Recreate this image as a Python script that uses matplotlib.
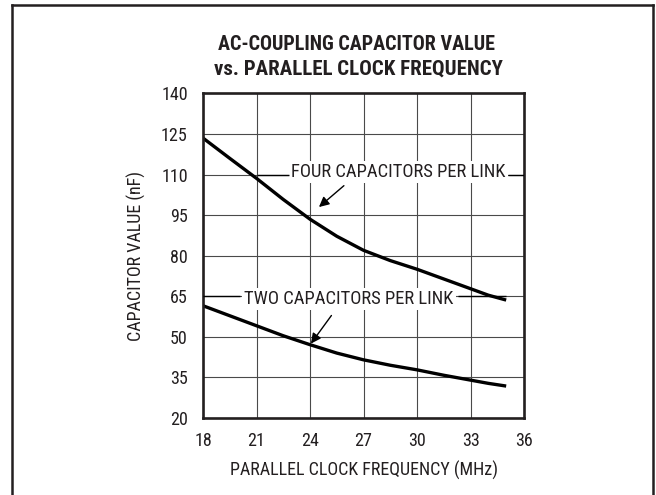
import matplotlib
matplotlib.use('Agg')
import matplotlib.pyplot as plt
from matplotlib import font_manager
from matplotlib.lines import Line2D

# data
freq = [18, 19.5, 21, 22.5, 24, 25.5, 27, 28.5, 30, 31.5, 33, 34, 35]
four_caps = [123.5, 116, 108.6, 100.8, 93.5, 87.2, 82.0, 78.2, 75.0, 71.4, 67.8, 65.4, 63.6]
two_caps = [61.5, 57.8, 54.1, 50.4, 47.1, 44.0, 41.5, 39.5, 37.8, 35.8, 34.0, 32.8, 31.8]
xticks = [18, 21, 24, 27, 30, 33, 36]
yticks = [20, 35, 50, 65, 80, 95, 110, 125, 140]

names = {f.name for f in font_manager.fontManager.ttflist}
fams = [n for n in ['Roboto Condensed', 'Archivo Narrow', 'Liberation Sans'] if n in names]
plt.rcParams['font.family'] = fams[:1] + ['DejaVu Sans']

ink = '#231f20'
fig = plt.figure(figsize=(6.56, 4.95), dpi=100)
ax = fig.add_axes([0.3095, 0.1556, 0.4893, 0.6556])

ax.plot(freq, four_caps, color='black', lw=2.4, solid_capstyle='butt')
ax.plot(freq, two_caps, color='black', lw=2.4, solid_capstyle='butt')

ax.set_xlim(18, 36)
ax.set_ylim(20, 140)
ax.set_xticks(xticks)
ax.set_yticks(yticks)
ax.grid(True, color='#4a4a4a', lw=0.8)
ax.set_axisbelow(True)
ax.tick_params(length=0, labelsize=13, colors=ink)
ax.tick_params(axis='x', pad=10)
ax.tick_params(axis='y', pad=11)
for s in ax.spines.values():
    s.set_linewidth(1.9)
    s.set_color(ink)

ax.set_xlabel('PARALLEL CLOCK FREQUENCY (MHz)', fontsize=13, color=ink, labelpad=8)
ax.set_ylabel('CAPACITOR VALUE (nF)', fontsize=13, color=ink, labelpad=11)

# curve labels with leader lines
arrow = dict(arrowstyle='-|>', color='black', lw=1.0, mutation_scale=15, shrinkA=0, shrinkB=0)
ax.text(28.96, 110.8, 'FOUR CAPACITORS PER LINK', ha='center', va='center', fontsize=13.4,
        color=ink, bbox=dict(facecolor='white', edgecolor='none', pad=1.5), zorder=3)
ax.hlines(110, 21, 22.8, color='black', lw=1.0, zorder=3)
ax.hlines(110, 35.1, 36, color='black', lw=1.0, zorder=3)
ax.annotate('', xy=(24.5, 98.0), xytext=(25.9, 105.9), arrowprops=arrow, zorder=4)

ax.text(26.18, 64.0, 'TWO CAPACITORS PER LINK', ha='center', va='center', fontsize=13.4,
        color=ink, bbox=dict(facecolor='white', edgecolor='none', pad=1.5), zorder=3)
ax.hlines(65, 18, 20.1, color='black', lw=1.0, zorder=3)
ax.hlines(65, 32.3, 35, color='black', lw=1.0, zorder=3)
ax.annotate('', xy=(24.05, 47.5), xytext=(25.2, 57.9), arrowprops=arrow, zorder=4)

fig.text(356 / 656, 1 - 44 / 495, 'AC-COUPLING CAPACITOR VALUE', ha='center', va='center',
         fontsize=14.5, fontweight='bold', color=ink)
fig.text(358 / 656, 1 - 69 / 495, 'vs. PARALLEL CLOCK FREQUENCY', ha='center', va='center',
         fontsize=15, fontweight='bold', color=ink)

# outer frame, open at the bottom
fx0, fx1, fy = 12 / 656, 653 / 656, 1 - 5 / 495
for xs, ys in [([fx0, fx0], [0, fy]), ([fx0, fx1], [fy, fy]), ([fx1, fx1], [fy, 0])]:
    fig.add_artist(Line2D(xs, ys, color=ink, lw=1.8, transform=fig.transFigure))

fig.savefig('out.png', dpi=100)
